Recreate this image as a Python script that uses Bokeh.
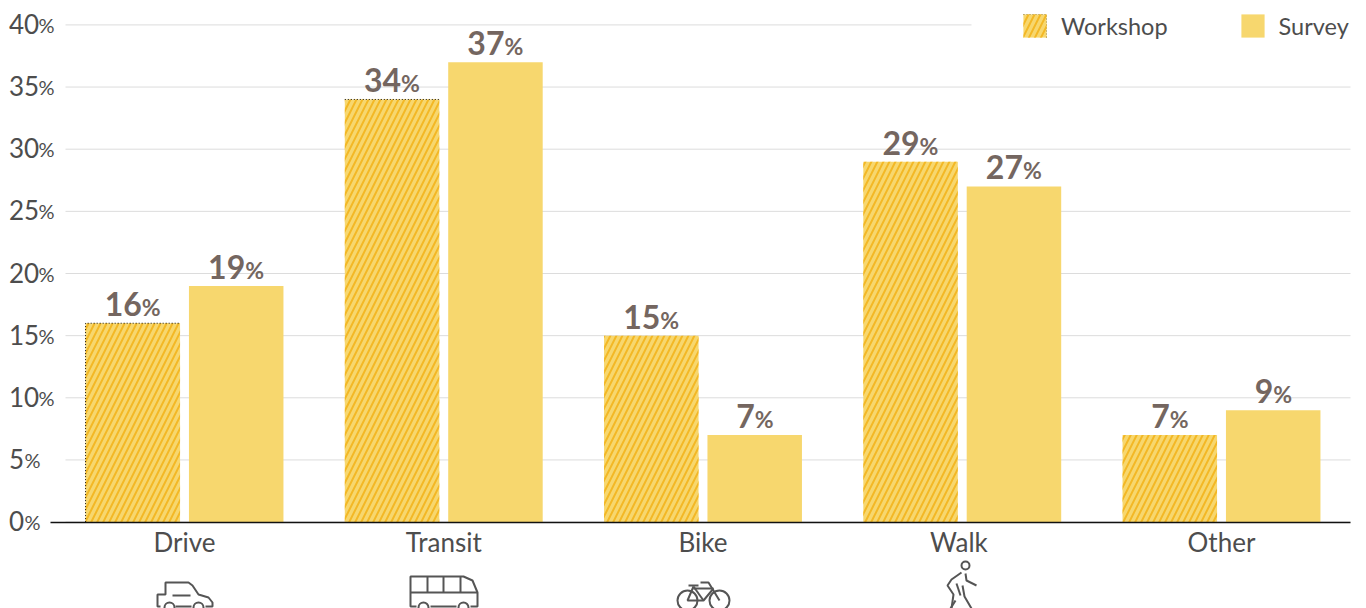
from bokeh.plotting import figure
from bokeh.embed import file_html
from bokeh.resources import INLINE
from bokeh.core.properties import value
from bokeh.models import FixedTicker, Legend, LegendItem

categories = ["Drive", "Transit", "Bike", "Walk", "Other"]
workshop = [16, 34, 15, 29, 7]
survey = [19, 37, 7, 27, 9]
y_ticks = [0, 5, 10, 15, 20, 25, 30, 35, 40]

W, H = 1366, 608
X0, XU = 184.0, 259.25      # px of category 0, px per category
Y0, YU = 521.6, 12.43       # px of value 0, px per value unit
def px(v): return (v - X0) / XU
def py(v): return (Y0 - v) / YU

FILL = "#F7D76E"; HATCH = "#F3B825"; INK = "#4D4D4D"; VAL = "#746660"; GRID = "#DCDCDC"; ICON = "#555555"
FONT = "Lato"

p = figure(width=W, height=H, output_backend="svg", toolbar_location=None,
           x_range=(px(0), px(W)), y_range=(py(H), py(0)),
           min_border=0, min_border_left=0, min_border_right=0, min_border_top=0, min_border_bottom=0,
           outline_line_color=None, y_axis_location=None)
p.xgrid.visible = False
p.ygrid.visible = False

# gridlines
gx1 = [px(971) if t == max(y_ticks) else px(1350) for t in y_ticks]
p.segment(x0=[px(65)] * len(y_ticks), x1=gx1, y0=y_ticks, y1=y_ticks, line_color=GRID, line_width=1)

# bars
idx = list(range(len(categories)))
off, bw = 51.7 / XU, 94.5 / XU
r_w = p.vbar(x=[i - off for i in idx], top=workshop, bottom=0, width=bw, fill_color=FILL, line_color=None,
             hatch_pattern="right_diagonal_line", hatch_color=HATCH, hatch_weight=2, hatch_scale=12)
r_s = p.vbar(x=[i + off for i in idx], top=survey, bottom=0, width=bw, fill_color=FILL, line_color=None)

# dotted edges on the hatched marks
dx = [[0 - off - bw / 2, 0 - off - bw / 2, 0 - off + bw / 2], [1 - off - bw / 2, 1 - off + bw / 2]]
dy = [[0, workshop[0], workshop[0]], [workshop[1], workshop[1]]]
p.multi_line(dx, dy, line_color="#111111", line_width=1, line_dash="1 2")

# x axis on the zero line
x_ticks = [0, 1, 2, 2.987, 4]
ax = p.xaxis[0]
ax.fixed_location = 0
ax.bounds = (px(50), px(1350))
ax.ticker = FixedTicker(ticks=x_ticks)
ax.major_label_overrides = {t: c for t, c in zip(x_ticks, categories)}
ax.major_tick_line_color = None
ax.minor_tick_line_color = None
ax.axis_line_color = "#111111"
ax.axis_line_width = 1.5
ax.major_label_text_font = FONT
ax.major_label_text_font_size = "26px"
ax.major_label_text_color = INK
ax.major_label_standoff = -2

# y tick labels
p.text(x=[px(8.5)] * len(y_ticks), y=y_ticks, text=[str(t) for t in y_ticks], text_font=value(FONT),
       text_font_size="26px", text_color=INK, text_align="left", text_baseline="alphabetic", y_offset=-1)
p.text(x=[px(38) if t >= 10 else px(24) for t in y_ticks], y=y_ticks, text=["%"] * len(y_ticks), text_font=value(FONT),
       text_font_size="20px", text_color=INK, text_align="left", text_baseline="alphabetic", y_offset=0)

# value labels
def labels(xs, vals):
    p.text(x=xs, y=vals, text=[str(v) for v in vals], text_font=value(FONT), text_font_style="bold",
           text_font_size="32px", text_color=VAL, text_align="right", text_baseline="alphabetic",
           x_offset=[9 if v >= 10 else 0 for v in vals], y_offset=-19)
    p.text(x=xs, y=vals, text=["%"] * len(vals), text_font=value(FONT), text_font_style="bold",
           text_font_size="23px", text_color=VAL, text_align="left", text_baseline="alphabetic",
           x_offset=[9 if v >= 10 else 0 for v in vals], y_offset=-16)
labels([i - off for i in idx], workshop)
labels([i + off for i in idx], survey)

# icons (px)
def L(pts):
    return [px(a) for a, b in pts], [py(b) for a, b in pts]
icon_lines = [
    # car
    [(160, 606), (157, 606), (157, 594), (165, 594), (165, 582), (188, 582), (192, 585), (198, 594), (208, 597), (212, 602), (212, 606), (205, 606)],
    [(175, 606), (191, 606)], [(172, 595), (190, 595)],
    # bus
    [(416, 606), (410, 606), (410, 576), (463, 576), (472, 580), (477, 592), (477, 606), (470, 606)],
    [(430, 606), (456, 606)], [(410, 592), (477, 592)], [(427, 576), (427, 592)], [(443, 576), (443, 592)], [(460, 576), (460, 592)],
    # bike
    [(688, 585), (698, 585)], [(700, 582), (708, 582), (719, 600)], [(693, 586), (687, 600), (703, 600), (713, 588)],
    [(693, 588), (713, 588)], [(693, 586), (703, 600)],
    # walker
    [(961, 572), (951, 579), (947, 585), (953, 594), (951, 608)], [(965, 573), (966, 580), (976, 585)],
    [(956, 583), (960, 595)], [(962, 585), (964, 596), (971, 608)], [(955, 600), (950, 608)],
]
xs, ys = zip(*[L(l) for l in icon_lines])
p.multi_line(list(xs), list(ys), line_color=ICON, line_width=2)
ic = [(169, 607, 5), (198, 607, 5), (423, 607, 5), (463, 607, 5), (687, 600, 10), (719, 600, 10), (965, 565, 4)]
p.scatter(x=[px(a) for a, b, r in ic], y=[py(b) for a, b, r in ic], size=[2 * r for a, b, r in ic],
          marker="circle", fill_color=None, line_color=ICON, line_width=2)

# legend
legend = Legend(items=[LegendItem(label="Workshop", renderers=[r_w]), LegendItem(label="Survey", renderers=[r_s])],
                orientation="horizontal", location=(1020, H - 11 - 29), padding=0, margin=0, spacing=70,
                glyph_width=29, glyph_height=29, label_standoff=12, label_height=29,
                label_text_font=FONT, label_text_font_size="23.5px", label_text_color=INK,
                background_fill_alpha=0, border_line_color=None)
p.add_layout(legend, "center")
p.multi_line([[px(1023), px(1046), px(1046)]], [[py(14), py(14), py(37)]], line_color="#111111", line_width=1, line_dash="1 2")

open("out.html", "w").write(file_html(p, INLINE))
